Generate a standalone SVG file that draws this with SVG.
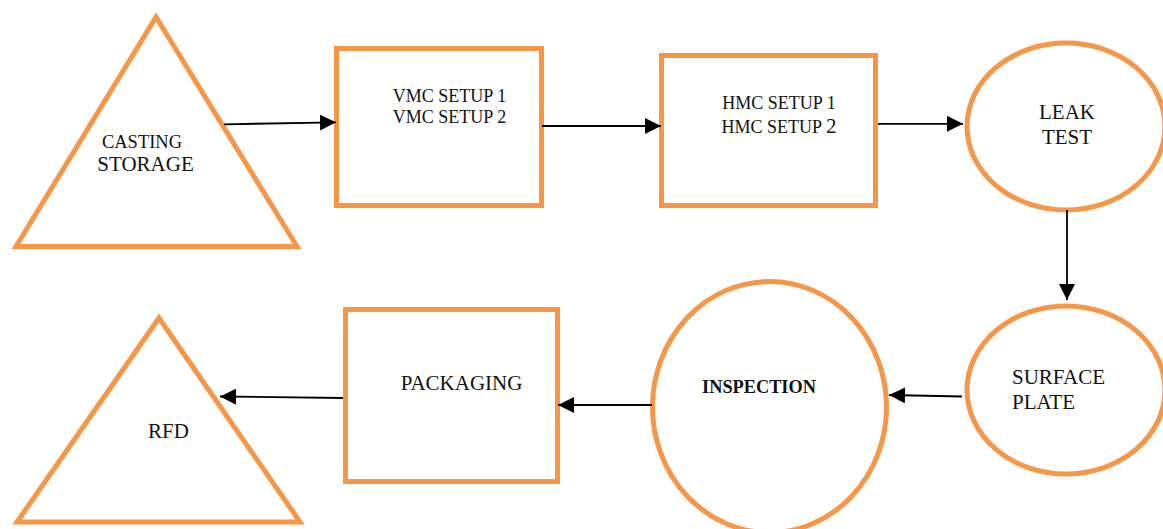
<svg xmlns="http://www.w3.org/2000/svg" width="1163" height="529" viewBox="0 0 1163 529">
  <style>
    .shape { fill: #ffffff; stroke: #F79646; stroke-width: 5; }
    .lbl { fill: #111111; }
    .conn { stroke: #000000; stroke-width: 1.8; fill: none; marker-end: url(#arrow); }
  </style>
  <defs>
    <marker id="arrow" markerUnits="userSpaceOnUse" markerWidth="16" markerHeight="16" viewBox="0 0 16 16" refX="16" refY="8" orient="auto">
      <path d="M0,0 L16,8 L0,16 Z" fill="#000000"/>
    </marker>
  </defs>
  <rect width="1163" height="529" fill="#ffffff"/>

  <g font-family="'Liberation Serif', 'DejaVu Serif', serif">
    <g id="casting-storage">
      <polygon class="shape" points="16,246.5 156,17 297,246.5"/>
      <text class="lbl" x="142" y="148" font-size="18.5" text-anchor="middle">CASTING</text>
      <text class="lbl" x="145.5" y="171" font-size="21" text-anchor="middle">STORAGE</text>
    </g>

    <g id="vmc-setup">
      <rect class="shape" x="336.5" y="48.5" width="205" height="157"/>
      <text class="lbl" x="449.5" y="102" font-size="18" text-anchor="middle">VMC SETUP 1</text>
      <text class="lbl" x="449.5" y="123" font-size="18" text-anchor="middle">VMC SETUP 2</text>
    </g>

    <g id="hmc-setup">
      <rect class="shape" x="661.5" y="55.5" width="214" height="150"/>
      <text class="lbl" x="779" y="109" font-size="18" text-anchor="middle">HMC SETUP 1</text>
      <text class="lbl" x="779" y="133" font-size="18" text-anchor="middle">HMC SETUP <tspan font-size="21">2</tspan></text>
    </g>

    <g id="leak-test">
      <ellipse class="shape" cx="1066" cy="126.5" rx="99" ry="83.5"/>
      <text class="lbl" x="1067" y="119" font-size="21" text-anchor="middle">LEAK</text>
      <text class="lbl" x="1067" y="144" font-size="21" text-anchor="middle">TEST</text>
    </g>

    <g id="surface-plate">
      <ellipse class="shape" cx="1066" cy="390" rx="99" ry="84"/>
      <text class="lbl" x="1012" y="384" font-size="21">SURFACE</text>
      <text class="lbl" x="1012" y="409" font-size="21">PLATE</text>
    </g>

    <g id="inspection">
      <ellipse class="shape" cx="769.5" cy="407" rx="117" ry="125.5"/>
      <text class="lbl" x="759" y="393" font-size="18.3" font-weight="bold" text-anchor="middle">INSPECTION</text>
    </g>

    <g id="packaging">
      <rect class="shape" x="345.5" y="309.5" width="212" height="172"/>
      <text class="lbl" x="461.5" y="390" font-size="21" text-anchor="middle">PACKAGING</text>
    </g>

    <g id="rfd">
      <polygon class="shape" points="17,522 159,318 300,522"/>
      <text class="lbl" x="168.5" y="438" font-size="21" text-anchor="middle">RFD</text>
    </g>
  </g>

  <g id="connectors">
    <line class="conn" x1="224" y1="124.3" x2="336" y2="122.3"/>
    <line class="conn" x1="542" y1="126" x2="661" y2="126"/>
    <line class="conn" x1="878" y1="123.8" x2="963" y2="123.8"/>
    <line class="conn" x1="1067" y1="210" x2="1067" y2="300"/>
    <line class="conn" x1="962" y1="396.5" x2="889" y2="395"/>
    <line class="conn" x1="652" y1="405" x2="558" y2="405"/>
    <line class="conn" x1="343" y1="398" x2="220" y2="396.5"/>
  </g>
</svg>
